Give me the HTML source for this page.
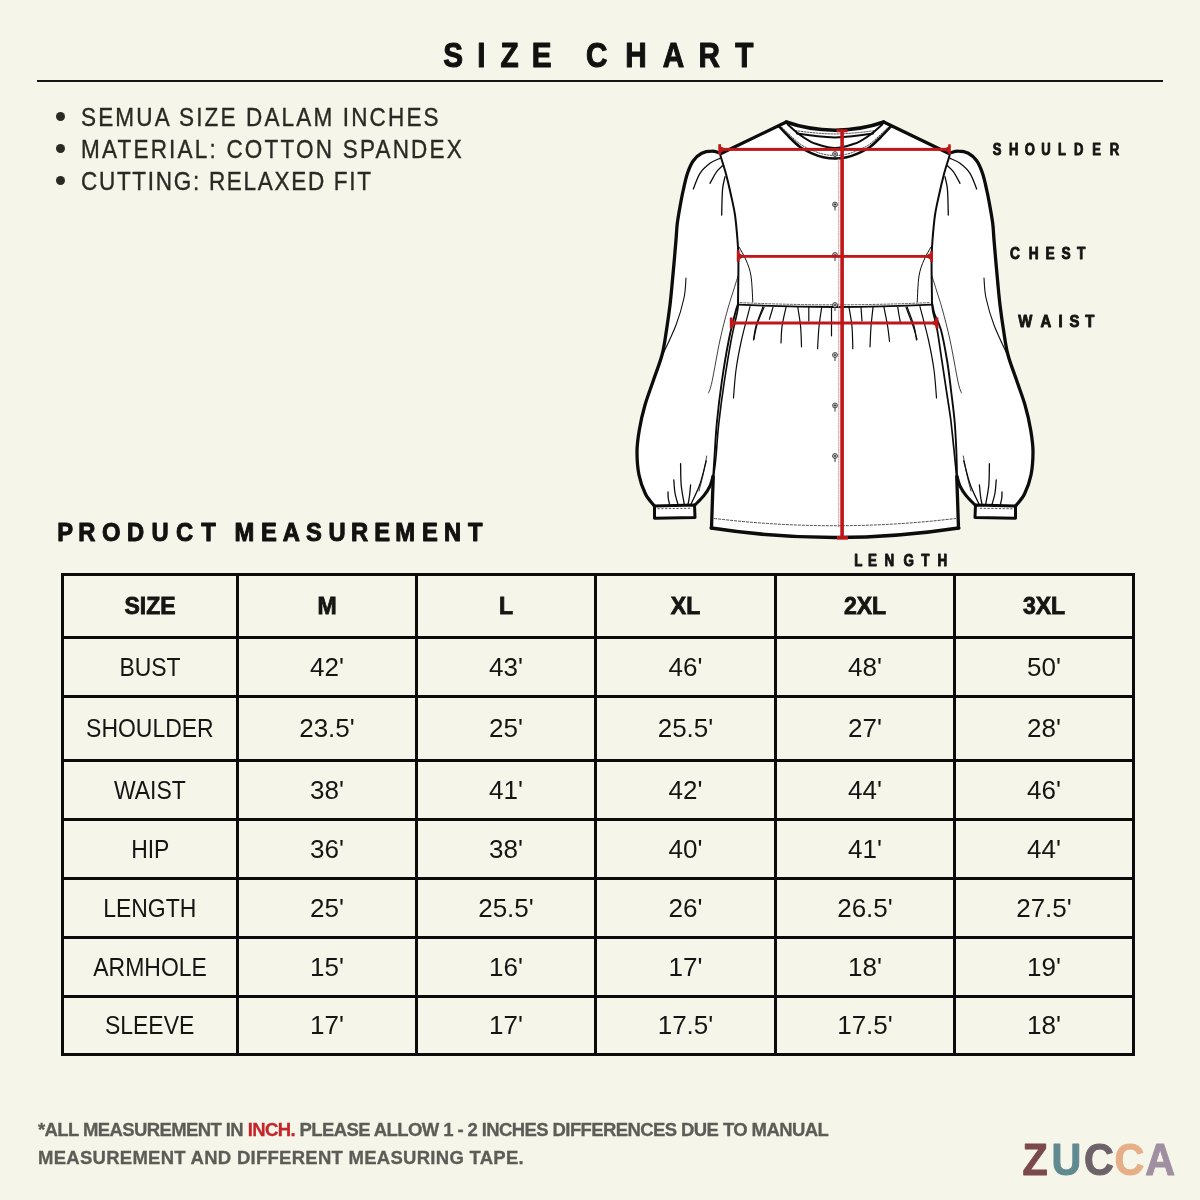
<!DOCTYPE html>
<html><head><meta charset="utf-8"><title>Size Chart</title>
<style>
*{margin:0;padding:0;box-sizing:border-box}
html,body{width:1200px;height:1200px;overflow:hidden}
body{background:#f5f5e9;position:relative;font-family:"Liberation Sans",Arial,sans-serif;color:#1b1b19}
.a{position:absolute;white-space:nowrap;line-height:1}
.title span{position:absolute;top:37.3px;font-size:35px;line-height:1;font-weight:700;color:#111110;-webkit-text-stroke:1.1px #111110;transform-origin:0 0;white-space:nowrap}
.rule{position:absolute;left:37px;top:80px;width:1126px;height:2px;background:#161612}
.bl{left:81px;font-size:25px;color:#2a2924;letter-spacing:0.5px;transform:scaleX(0.9);transform-origin:0 0;-webkit-text-stroke:0.35px #2a2924}
.dot{position:absolute;left:56px;width:9px;height:9px;border-radius:50%;background:#2a2924}
.lab{position:absolute;font-size:16px;line-height:1;font-weight:700;color:#141412;-webkit-text-stroke:0.9px #141412;transform-origin:0 0;white-space:nowrap}
.pm{position:absolute;font-size:26px;line-height:1;font-weight:700;color:#121211;-webkit-text-stroke:1px #121211;transform-origin:0 0;white-space:nowrap}
.hl{position:absolute;left:61px;width:1074px;height:3px;background:#0b0b0b}
.vl{position:absolute;top:573px;width:3px;height:483px;background:#0b0b0b}
.c{position:absolute;display:flex;align-items:center;justify-content:center;font-size:25px;color:#151513;white-space:nowrap}
.c.h{font-weight:700;font-size:23px;-webkit-text-stroke:0.8px #151513}
.c span{position:relative;top:0.5px}
.c.w span{display:inline-block;transform:scaleX(0.9);font-size:25.5px}
.c{font-size:26px}
.foot{left:38px;font-size:18.5px;font-weight:700;color:#5d5d57;-webkit-text-stroke:0.3px #5d5d57}
.foot .r{color:#c5252a;-webkit-text-stroke:0.3px #c5252a}
.logo span{position:absolute;top:1137.2px;font-size:45px;line-height:1;font-weight:700;transform-origin:0 0;white-space:nowrap}
</style></head><body>

<div class="rule"></div>

<div class="dot" style="top:112px"></div>
<div class="dot" style="top:144px"></div>
<div class="dot" style="top:176px"></div>
<div class="a bl" style="top:105px;letter-spacing:2.4px">SEMUA SIZE DALAM INCHES</div>
<div class="a bl" style="top:137px;letter-spacing:2.45px">MATERIAL: COTTON SPANDEX</div>
<div class="a bl" style="top:169px;letter-spacing:1.9px">CUTTING: RELAXED FIT</div>



<!-- SHIRT -->
<svg id="shirt" style="position:absolute;left:0;top:0" width="1200" height="600" viewBox="0 0 1200 600">
<path d="M720,153 C718.6,152.7 714.8,151.1 711.7,151.2 C708.7,151.2 704.8,151.7 701.7,153.3 C698.6,154.9 695.7,157.5 693.3,160.8 C690.9,164.1 689.2,168.4 687.5,173.3 C685.8,178.2 684.5,184.4 683.3,190 C682,195.6 681,201.1 680,206.7 C679,212.2 678,217.8 677.3,223.3 C676.6,228.9 676.5,233.9 676,240 C675.5,246.1 674.9,253 674.3,260 C673.7,267 673,274.5 672.3,282 C671.6,289.5 671,297 670,305 C669,313 667.8,321.7 666.5,330 C665.2,338.3 664.2,346.7 662,355 C659.8,363.3 656.3,371.7 653.5,380 C650.7,388.3 647.4,396.7 645,405 C642.6,413.3 640.6,422.2 639.3,430 C638,437.8 637,444.5 637,452 C637,459.5 637.6,468 639,475 C640.4,482 643,488.9 645.5,494 C648,499.1 652.6,503.6 654,505.5 L695,505 C696.5,503.4 701.5,498.7 704,495.5 C706.5,492.3 708.5,489.2 710,486 C711.5,482.8 712.5,477.7 713,476 L718,420 L728,360 L738,300 L738,200 Z" fill="#fff" stroke="none"/>
<path d="M720,153 C718.6,152.7 714.8,151.1 711.7,151.2 C708.7,151.2 704.8,151.7 701.7,153.3 C698.6,154.9 695.7,157.5 693.3,160.8 C690.9,164.1 689.2,168.4 687.5,173.3 C685.8,178.2 684.5,184.4 683.3,190 C682,195.6 681,201.1 680,206.7 C679,212.2 678,217.8 677.3,223.3 C676.6,228.9 676.5,233.9 676,240 C675.5,246.1 674.9,253 674.3,260 C673.7,267 673,274.5 672.3,282 C671.6,289.5 671,297 670,305 C669,313 667.8,321.7 666.5,330 C665.2,338.3 664.2,346.7 662,355 C659.8,363.3 656.3,371.7 653.5,380 C650.7,388.3 647.4,396.7 645,405 C642.6,413.3 640.6,422.2 639.3,430 C638,437.8 637,444.5 637,452 C637,459.5 637.6,468 639,475 C640.4,482 643,488.9 645.5,494 C648,499.1 652.6,503.6 654,505.5" fill="none" stroke="#0c0c0c" stroke-width="3.3" stroke-linecap="round" stroke-linejoin="round"/>
<path d="M695,505 C696.5,503.4 701.5,498.7 704,495.5 C706.5,492.3 708.5,489.2 710,486 C711.5,482.8 712.5,477.7 713,476" fill="none" stroke="#0c0c0c" stroke-width="3.0" stroke-linecap="round" stroke-linejoin="round"/>
<path d="M654.5,506 L694.5,505 L695,517.5 L654.5,518.3 Z" fill="#fff" stroke="#0c0c0c" stroke-width="3" stroke-linejoin="round"/>
<path d="M657.5,508.8 L692,508.2" stroke="#444" stroke-width="0.9" stroke-dasharray="2.2 1.6" fill="none"/>
<path d="M668,492 C668,493 668,496 668.2,498 C668.5,500 669.3,503 669.5,504" fill="none" stroke="#0c0c0c" stroke-width="1.3" stroke-linecap="round" stroke-linejoin="round"/>
<path d="M673.8,480 C674,482.2 674.3,488.9 675,493 C675.7,497.1 677.5,502.6 678,504.5" fill="none" stroke="#0c0c0c" stroke-width="1.3" stroke-linecap="round" stroke-linejoin="round"/>
<path d="M680.6,463.7 C680.7,467.2 680.6,478.1 681.2,485 C681.8,491.9 683.9,501.7 684.4,505" fill="none" stroke="#0c0c0c" stroke-width="1.3" stroke-linecap="round" stroke-linejoin="round"/>
<path d="M690.6,485 C690.4,486.8 689.9,492.8 689.5,496 C689.1,499.2 688.2,503 688,504.4" fill="none" stroke="#0c0c0c" stroke-width="1.3" stroke-linecap="round" stroke-linejoin="round"/>
<path d="M706.2,461 C705.2,464.8 702.5,476.8 700,484 C697.5,491.2 692.5,500.7 691,504" fill="none" stroke="#0c0c0c" stroke-width="1.3" stroke-linecap="round" stroke-linejoin="round"/>
<path d="M720,158.3 C718.3,159.1 713.3,160.8 710,163.3 C706.7,165.8 702.8,169 700,173.3 C697.2,177.6 694.4,186.4 693.3,189" fill="none" stroke="#0c0c0c" stroke-width="1.3" stroke-linecap="round" stroke-linejoin="round"/>
<path d="M722.5,165.8 C721.5,166.8 718.8,168.8 716.7,171.7 C714.6,174.6 711.1,181.4 710,183.3" fill="none" stroke="#0c0c0c" stroke-width="1.3" stroke-linecap="round" stroke-linejoin="round"/>
<path d="M725,176.7 C724.6,178.9 723,183.6 722.5,190 C722,196.4 721.8,210.8 721.7,215" fill="none" stroke="#0c0c0c" stroke-width="1.3" stroke-linecap="round" stroke-linejoin="round"/>
<path d="M686,278 C685.7,281.3 685.7,290.2 684,298 C682.3,305.8 679.5,315.7 676,325 C672.5,334.3 665.2,349.2 663,354" fill="none" stroke="#0c0c0c" stroke-width="1.1" stroke-linecap="round" stroke-linejoin="round"/>
<path d="M738,276 C737.2,278.7 734.8,286.3 733,292 C731.2,297.7 729.7,302 727.5,310 C725.3,318 722.6,328.1 720,340 C717.4,351.9 713.9,372.9 712,381.7 C710.1,390.5 709.1,391.1 708.5,393" fill="none" stroke="#0c0c0c" stroke-width="0.8" stroke-linecap="round" stroke-linejoin="round"/>
<path d="M706.7,456 C706.1,459.2 704.3,469.2 703,475 C701.7,480.8 699.7,488.3 699,491" fill="none" stroke="#0c0c0c" stroke-width="0.8" stroke-linecap="round" stroke-linejoin="round"/>
<path d="M950,153 C951.4,152.7 955.2,151.1 958.3,151.2 C961.3,151.2 965.2,151.7 968.3,153.3 C971.4,154.9 974.3,157.5 976.7,160.8 C979.1,164.1 980.8,168.4 982.5,173.3 C984.2,178.2 985.5,184.4 986.7,190 C988,195.6 989,201.1 990,206.7 C991,212.2 992,217.8 992.7,223.3 C993.4,228.9 993.5,233.9 994,240 C994.5,246.1 995.1,253 995.7,260 C996.3,267 997,274.5 997.7,282 C998.4,289.5 999,297 1000,305 C1001,313 1002.2,321.7 1003.5,330 C1004.8,338.3 1005.8,346.7 1008,355 C1010.2,363.3 1013.7,371.7 1016.5,380 C1019.3,388.3 1022.6,396.7 1025,405 C1027.4,413.3 1029.4,422.2 1030.7,430 C1032,437.8 1033,444.5 1033,452 C1033,459.5 1032.4,468 1031,475 C1029.6,482 1027,488.9 1024.5,494 C1022,499.1 1017.4,503.6 1016,505.5 L975,505 C973.5,503.4 968.5,498.7 966,495.5 C963.5,492.3 961.5,489.2 960,486 C958.5,482.8 957.5,477.7 957,476 L952,420 L942,360 L932,300 L932,200 Z" fill="#fff" stroke="none"/>
<path d="M950,153 C951.4,152.7 955.2,151.1 958.3,151.2 C961.3,151.2 965.2,151.7 968.3,153.3 C971.4,154.9 974.3,157.5 976.7,160.8 C979.1,164.1 980.8,168.4 982.5,173.3 C984.2,178.2 985.5,184.4 986.7,190 C988,195.6 989,201.1 990,206.7 C991,212.2 992,217.8 992.7,223.3 C993.4,228.9 993.5,233.9 994,240 C994.5,246.1 995.1,253 995.7,260 C996.3,267 997,274.5 997.7,282 C998.4,289.5 999,297 1000,305 C1001,313 1002.2,321.7 1003.5,330 C1004.8,338.3 1005.8,346.7 1008,355 C1010.2,363.3 1013.7,371.7 1016.5,380 C1019.3,388.3 1022.6,396.7 1025,405 C1027.4,413.3 1029.4,422.2 1030.7,430 C1032,437.8 1033,444.5 1033,452 C1033,459.5 1032.4,468 1031,475 C1029.6,482 1027,488.9 1024.5,494 C1022,499.1 1017.4,503.6 1016,505.5" fill="none" stroke="#0c0c0c" stroke-width="3.3" stroke-linecap="round" stroke-linejoin="round"/>
<path d="M975,505 C973.5,503.4 968.5,498.7 966,495.5 C963.5,492.3 961.5,489.2 960,486 C958.5,482.8 957.5,477.7 957,476" fill="none" stroke="#0c0c0c" stroke-width="3.0" stroke-linecap="round" stroke-linejoin="round"/>
<path d="M1015.5,506 L975.5,505 L975,517.5 L1015.5,518.3 Z" fill="#fff" stroke="#0c0c0c" stroke-width="3" stroke-linejoin="round"/>
<path d="M1012.5,508.8 L978,508.2" stroke="#444" stroke-width="0.9" stroke-dasharray="2.2 1.6" fill="none"/>
<path d="M1002,492 C1002,493 1002,496 1001.8,498 C1001.5,500 1000.7,503 1000.5,504" fill="none" stroke="#0c0c0c" stroke-width="1.3" stroke-linecap="round" stroke-linejoin="round"/>
<path d="M996.2,480 C996,482.2 995.7,488.9 995,493 C994.3,497.1 992.5,502.6 992,504.5" fill="none" stroke="#0c0c0c" stroke-width="1.3" stroke-linecap="round" stroke-linejoin="round"/>
<path d="M989.4,463.7 C989.3,467.2 989.4,478.1 988.8,485 C988.2,491.9 986.1,501.7 985.6,505" fill="none" stroke="#0c0c0c" stroke-width="1.3" stroke-linecap="round" stroke-linejoin="round"/>
<path d="M979.4,485 C979.6,486.8 980.1,492.8 980.5,496 C980.9,499.2 981.8,503 982,504.4" fill="none" stroke="#0c0c0c" stroke-width="1.3" stroke-linecap="round" stroke-linejoin="round"/>
<path d="M963.8,461 C964.8,464.8 967.5,476.8 970,484 C972.5,491.2 977.5,500.7 979,504" fill="none" stroke="#0c0c0c" stroke-width="1.3" stroke-linecap="round" stroke-linejoin="round"/>
<path d="M950,158.3 C951.7,159.1 956.7,160.8 960,163.3 C963.3,165.8 967.2,169 970,173.3 C972.8,177.6 975.6,186.4 976.7,189" fill="none" stroke="#0c0c0c" stroke-width="1.3" stroke-linecap="round" stroke-linejoin="round"/>
<path d="M947.5,165.8 C948.5,166.8 951.2,168.8 953.3,171.7 C955.4,174.6 958.9,181.4 960,183.3" fill="none" stroke="#0c0c0c" stroke-width="1.3" stroke-linecap="round" stroke-linejoin="round"/>
<path d="M945,176.7 C945.4,178.9 947,183.6 947.5,190 C948,196.4 948.2,210.8 948.3,215" fill="none" stroke="#0c0c0c" stroke-width="1.3" stroke-linecap="round" stroke-linejoin="round"/>
<path d="M984,278 C984.3,281.3 984.3,290.2 986,298 C987.7,305.8 990.5,315.7 994,325 C997.5,334.3 1004.8,349.2 1007,354" fill="none" stroke="#0c0c0c" stroke-width="1.1" stroke-linecap="round" stroke-linejoin="round"/>
<path d="M932,276 C932.8,278.7 935.2,286.3 937,292 C938.8,297.7 940.3,302 942.5,310 C944.7,318 947.4,328.1 950,340 C952.6,351.9 956.1,372.9 958,381.7 C959.9,390.5 960.9,391.1 961.5,393" fill="none" stroke="#0c0c0c" stroke-width="0.8" stroke-linecap="round" stroke-linejoin="round"/>
<path d="M963.3,456 C963.9,459.2 965.7,469.2 967,475 C968.3,480.8 970.3,488.3 971,491" fill="none" stroke="#0c0c0c" stroke-width="0.8" stroke-linecap="round" stroke-linejoin="round"/>
<path d="M835,130 C820,129.6 800,126 786,121 L721,153 L720.4,155.5 C721.3,158.5 724.1,166.9 725.8,173.3 C727.5,179.8 729.3,187.2 730.8,194.2 C732.3,201.1 733.9,207.4 735,215 C736.1,222.6 736.9,232.5 737.5,240 C738.1,247.5 738.3,253.3 738.4,260 C738.5,266.7 738.4,272.7 738.3,280 C738.2,287.3 738,300 738,304 C737.6,305.7 737.3,308 735.8,314 C734.3,320 731.4,328.7 729.2,340 C727,351.3 724.5,367.8 722.5,381.7 C720.5,395.6 718.8,410.8 717.5,423.3 C716.2,435.8 715.8,447.6 715,456.7 C714.2,465.8 713.5,470.8 713,478 C712.5,485.2 712.3,491.7 712,500 C711.7,508.3 711.4,523.3 711.3,528 Q835,547 958.7,528 C958.6,523.3 958.3,508.3 958,500 C957.7,491.7 957.5,485.2 957,478 C956.5,470.8 955.8,465.8 955,456.7 C954.2,447.6 953.8,435.8 952.5,423.3 C951.2,410.8 949.5,395.6 947.5,381.7 C945.5,367.8 943,351.3 940.8,340 C938.6,328.7 935.7,320 934.2,314 C932.7,308 932.4,305.7 932,304 C932,300 931.8,287.3 931.7,280 C931.6,272.7 931.5,266.7 931.6,260 C931.7,253.3 931.9,247.5 932.5,240 C933.1,232.5 933.9,222.6 935,215 C936.1,207.4 937.7,201.1 939.2,194.2 C940.7,187.2 942.5,179.8 944.2,173.3 C945.9,166.9 948.7,158.5 949.6,155.5 L949,153 L884,121 C870,126 850,129.6 835,130 Z" fill="#fff" stroke="none"/>
<path d="M786.3,122 L721,153.5" fill="none" stroke="#0c0c0c" stroke-width="3.3" stroke-linecap="round" stroke-linejoin="round"/>
<path d="M720.4,155.5 C721.3,158.5 724.1,166.9 725.8,173.3 C727.5,179.8 729.3,187.2 730.8,194.2 C732.3,201.1 733.9,207.4 735,215 C736.1,222.6 736.9,232.5 737.5,240 C738.1,247.5 738.3,253.3 738.4,260 C738.5,266.7 738.4,272.7 738.3,280 C738.2,287.3 738,300 738,304" fill="none" stroke="#0c0c0c" stroke-width="2.0" stroke-linecap="round" stroke-linejoin="round"/>
<path d="M738,304 C737.6,305.3 737,306 735.5,312 C734,318 731.1,328.4 728.8,340 C726.5,351.6 723.8,367.8 721.8,381.7 C719.8,395.6 718,410.8 716.8,423.3 C715.6,435.8 715.1,448.1 714.5,456.7 C713.9,465.3 713.5,471.9 713.3,475" fill="none" stroke="#0c0c0c" stroke-width="1.9" stroke-linecap="round" stroke-linejoin="round"/>
<path d="M738.3,304 C738.1,305.3 738.5,306 737.3,312 C736.1,318 733.4,328.4 731.2,340 C729,351.6 726.4,367.8 724.3,381.7 C722.2,395.6 720.2,410.8 718.8,423.3 C717.4,435.8 716.8,448.1 716,456.7 C715.2,465.3 714.2,471.9 713.8,475" fill="none" stroke="#0c0c0c" stroke-width="1.6" stroke-linecap="round" stroke-linejoin="round"/>
<path d="M713.3,476.5 C713.2,480.1 712.8,489.4 712.5,498 C712.2,506.6 711.7,523 711.5,528" fill="none" stroke="#0c0c0c" stroke-width="3.3" stroke-linecap="round" stroke-linejoin="round"/>
<path d="M739,247 C740.2,249.2 744,255.2 746,260 C748,264.8 749.9,269 751,276 C752.1,283 752.5,297.7 752.8,302" fill="none" stroke="#0c0c0c" stroke-width="1.0" stroke-linecap="round" stroke-linejoin="round"/>
<path d="M750,306.7 C748.6,312.2 743.8,329.4 741.5,340 C739.2,350.6 737.3,360.3 736,370 C734.7,379.7 733.9,393.3 733.5,398" fill="none" stroke="#0c0c0c" stroke-width="1.2" stroke-linecap="round" stroke-linejoin="round"/>
<path d="M763,306.7 C761.8,309.9 757.6,320.4 756,326 C754.4,331.6 753.9,337.7 753.5,340" fill="none" stroke="#0c0c0c" stroke-width="1.2" stroke-linecap="round" stroke-linejoin="round"/>
<path d="M883.7,122 L949,153.5" fill="none" stroke="#0c0c0c" stroke-width="3.3" stroke-linecap="round" stroke-linejoin="round"/>
<path d="M949.6,155.5 C948.7,158.5 945.9,166.9 944.2,173.3 C942.5,179.8 940.7,187.2 939.2,194.2 C937.7,201.1 936.1,207.4 935,215 C933.9,222.6 933.1,232.5 932.5,240 C931.9,247.5 931.7,253.3 931.6,260 C931.5,266.7 931.6,272.7 931.7,280 C931.8,287.3 932,300 932,304" fill="none" stroke="#0c0c0c" stroke-width="2.0" stroke-linecap="round" stroke-linejoin="round"/>
<path d="M932.3,304 C932.7,305.7 933,309.7 934.5,314 C936,318.3 938.9,322.3 941,330 C943.1,337.7 945.3,350 947,360 C948.7,370 949.8,380 951,390 C952.2,400 953.6,410 954.5,420 C955.4,430 955.9,440.7 956.3,450 C956.7,459.3 956.9,471.7 957,476" fill="none" stroke="#0c0c0c" stroke-width="1.9" stroke-linecap="round" stroke-linejoin="round"/>
<path d="M932,304 C932.2,305.3 932.1,307.7 933,312 C933.9,316.3 935.8,322 937.2,330 C938.7,338 940.2,350 941.8,360 C943.3,370 944.8,380 946.3,390 C947.8,400 949.5,410 950.8,420 C952,430 953,440.7 954,450 C955,459.3 956.1,471.7 956.5,476" fill="none" stroke="#0c0c0c" stroke-width="1.7" stroke-linecap="round" stroke-linejoin="round"/>
<path d="M956.7,476.5 C956.8,480.1 957.2,489.4 957.5,498 C957.8,506.6 958.3,523 958.5,528" fill="none" stroke="#0c0c0c" stroke-width="3.3" stroke-linecap="round" stroke-linejoin="round"/>
<path d="M931,247 C929.8,249.2 926,255.2 924,260 C922,264.8 920.1,269 919,276 C917.9,283 917.5,297.7 917.2,302" fill="none" stroke="#0c0c0c" stroke-width="1.0" stroke-linecap="round" stroke-linejoin="round"/>
<path d="M920,306.7 C921.4,312.2 926.2,329.4 928.5,340 C930.8,350.6 932.7,360.3 934,370 C935.3,379.7 936.1,393.3 936.5,398" fill="none" stroke="#0c0c0c" stroke-width="1.2" stroke-linecap="round" stroke-linejoin="round"/>
<path d="M907,306.7 C908.2,309.9 912.4,320.4 914,326 C915.6,331.6 916.1,337.7 916.5,340" fill="none" stroke="#0c0c0c" stroke-width="1.2" stroke-linecap="round" stroke-linejoin="round"/>
<path d="M786.3,122 C800,127 818,129.9 835,130.2 C852,129.9 870,127 883.7,122" fill="none" stroke="#0c0c0c" stroke-width="3.6" stroke-linecap="round" stroke-linejoin="round"/>
<path d="M797,133.5 C810,135.6 822,137.2 835,137.4 C848,137.2 860,135.6 873,133.5" fill="none" stroke="#0c0c0c" stroke-width="2.0" stroke-linecap="round" stroke-linejoin="round"/>
<path d="M795,130.6 C810,132.6 822,133.8 835,134 C848,133.8 860,132.6 875,130.6" fill="none" stroke="#333" stroke-width="0.9" stroke-linecap="round" stroke-linejoin="round" stroke-dasharray="1.6 1.4"/>
<path d="M779,126.3 C780.6,128 785.2,133.1 788.7,136.5 C792.2,139.9 796,144.2 800,147 C804,149.8 808.6,151.9 812.5,153.6 C816.4,155.3 819.5,156.4 823.3,157.2 C827,158 831.1,158.5 835,158.5 C838.9,158.5 843,158 846.7,157.2 C850.5,156.4 853.6,155.3 857.5,153.6 C861.4,151.9 866,149.8 870,147 C874,144.2 877.8,139.9 881.3,136.5 C884.8,133.1 889.4,128 891,126.3" fill="none" stroke="#0c0c0c" stroke-width="2.6" stroke-linecap="round" stroke-linejoin="round"/>
<path d="M787.7,124.5 C789.4,126 794.3,130.7 798,133.5 C801.7,136.3 806.7,139.5 810,141.3 C813.3,143.1 815,143.5 818,144.5 C821,145.5 825.2,146.6 828,147.2 C830.8,147.8 832.7,148 835,148 C837.3,148 839.2,147.8 842,147.2 C844.8,146.6 849,145.5 852,144.5 C855,143.5 856.7,143.1 860,141.3 C863.3,139.5 868.3,136.3 872,133.5 C875.7,130.7 880.6,126 882.3,124.5" fill="none" stroke="#0c0c0c" stroke-width="2.0" stroke-linecap="round" stroke-linejoin="round"/>
<path d="M782,127.5 C783.6,129 788.2,133.5 791.5,136.5 C794.8,139.5 798.2,142.9 802,145.3 C805.8,147.7 810.3,149.5 814,151 C817.7,152.5 820.5,153.6 824,154.3 C827.5,155.1 831.3,155.5 835,155.5 C838.7,155.5 842.5,155.1 846,154.3 C849.5,153.6 852.3,152.5 856,151 C859.7,149.5 864.2,147.7 868,145.3 C871.8,142.9 875.2,139.5 878.5,136.5 C881.8,133.5 886.4,129 888,127.5" fill="none" stroke="#333" stroke-width="0.9" stroke-linecap="round" stroke-linejoin="round" stroke-dasharray="1.6 1.4"/>
<path d="M738,304.6 C780,306.6 810,307 835,307 C860,307 890,306.6 932,304.6" fill="none" stroke="#0c0c0c" stroke-width="1.8" stroke-linecap="round" stroke-linejoin="round"/>
<path d="M740,302.6 C780,304.4 810,304.8 835,304.8 C860,304.8 890,304.4 930,302.6" fill="none" stroke="#333" stroke-width="0.8" stroke-linecap="round" stroke-linejoin="round" stroke-dasharray="2 1.6"/>
<path d="M711.3,528 Q835,547 958.7,528" fill="none" stroke="#0c0c0c" stroke-width="3.6" stroke-linecap="round" stroke-linejoin="round"/>
<path d="M714.5,518.5 Q835,533 955.5,518.5" fill="none" stroke="#333" stroke-width="0.9" stroke-linecap="round" stroke-linejoin="round" stroke-dasharray="2.2 1.8"/>
<path d="M838.7,159 L838.7,527" fill="none" stroke="#d49a9a" stroke-width="1.1" stroke-linecap="round" stroke-linejoin="round" stroke-dasharray="1 1.4"/>
<path d="M764,307.4 C762.9,310 759.2,317.6 757.5,323 C755.8,328.4 754.4,336.8 753.8,339.5" fill="none" stroke="#0c0c0c" stroke-width="1.2" stroke-linecap="round" stroke-linejoin="round"/>
<path d="M773,307.4 C772.7,308.5 771.6,312 771,314 C770.4,316 769.7,318.4 769.4,319.3" fill="none" stroke="#0c0c0c" stroke-width="1.2" stroke-linecap="round" stroke-linejoin="round"/>
<path d="M786,307.4 C785.3,310.6 782.8,320.8 782,326.7 C781.2,332.6 781.2,340.3 781,343" fill="none" stroke="#0c0c0c" stroke-width="1.2" stroke-linecap="round" stroke-linejoin="round"/>
<path d="M797.8,307.4 C798.3,310.6 800,320.1 800.6,326.7 C801.2,333.3 801.4,343.4 801.5,346.8" fill="none" stroke="#0c0c0c" stroke-width="1.2" stroke-linecap="round" stroke-linejoin="round"/>
<path d="M808.8,307.4 C808.8,308.5 808.8,311.7 808.8,314 C808.8,316.3 808.8,319.8 808.8,321" fill="none" stroke="#0c0c0c" stroke-width="1.2" stroke-linecap="round" stroke-linejoin="round"/>
<path d="M821.7,307.4 C821.2,310.6 819.7,319.8 819,326.7 C818.3,333.6 817.8,345 817.6,348.7" fill="none" stroke="#0c0c0c" stroke-width="1.2" stroke-linecap="round" stroke-linejoin="round"/>
<path d="M831.5,307.4 C831.5,309.5 831.5,315.3 831.5,320 C831.5,324.7 831.5,333.2 831.5,335.8" fill="none" stroke="#0c0c0c" stroke-width="1.2" stroke-linecap="round" stroke-linejoin="round"/>
<path d="M849,307.4 C849.5,310.6 851.4,319.8 852,326.7 C852.6,333.6 852.7,345 852.8,348.7" fill="none" stroke="#0c0c0c" stroke-width="1.2" stroke-linecap="round" stroke-linejoin="round"/>
<path d="M861,307.4 C861.1,308.5 861.3,311.7 861.5,314 C861.7,316.3 861.9,319.8 862,321" fill="none" stroke="#0c0c0c" stroke-width="1.2" stroke-linecap="round" stroke-linejoin="round"/>
<path d="M873,307.4 C872.7,310.6 871.5,320.1 871,326.7 C870.5,333.3 870.2,343.4 870,346.8" fill="none" stroke="#0c0c0c" stroke-width="1.2" stroke-linecap="round" stroke-linejoin="round"/>
<path d="M884,307.4 C884.6,310.6 886.8,321 887.7,326.7 C888.6,332.4 889.2,338.9 889.5,341.3" fill="none" stroke="#0c0c0c" stroke-width="1.2" stroke-linecap="round" stroke-linejoin="round"/>
<path d="M897.8,307.4 C898,308.7 898.5,312.4 899,315 C899.5,317.6 900.2,321.7 900.5,323" fill="none" stroke="#0c0c0c" stroke-width="1.2" stroke-linecap="round" stroke-linejoin="round"/>
<path d="M906,307.4 C907.2,310.6 911.5,321.3 913.3,326.7 C915.1,332.1 916.4,337.4 917,339.5" fill="none" stroke="#0c0c0c" stroke-width="1.2" stroke-linecap="round" stroke-linejoin="round"/>
<g stroke="#222" fill="#fff" stroke-width="0.9"><circle cx="835" cy="154" r="2.4"/><path d="M833.6,154 h2.8 M835,152.6 v2.8 M835,156.4 v3.6" fill="none"/></g>
<g stroke="#222" fill="#fff" stroke-width="0.9"><circle cx="835" cy="204.5" r="2.4"/><path d="M833.6,204.5 h2.8 M835,203.1 v2.8 M835,206.9 v3.6" fill="none"/></g>
<g stroke="#222" fill="#fff" stroke-width="0.9"><circle cx="835" cy="255" r="2.4"/><path d="M833.6,255 h2.8 M835,253.6 v2.8 M835,257.4 v3.6" fill="none"/></g>
<g stroke="#222" fill="#fff" stroke-width="0.9"><circle cx="835" cy="305" r="2.4"/><path d="M833.6,305 h2.8 M835,303.6 v2.8 M835,307.4 v3.6" fill="none"/></g>
<g stroke="#222" fill="#fff" stroke-width="0.9"><circle cx="835" cy="355" r="2.4"/><path d="M833.6,355 h2.8 M835,353.6 v2.8 M835,357.4 v3.6" fill="none"/></g>
<g stroke="#222" fill="#fff" stroke-width="0.9"><circle cx="835" cy="405.5" r="2.4"/><path d="M833.6,405.5 h2.8 M835,404.1 v2.8 M835,407.9 v3.6" fill="none"/></g>
<g stroke="#222" fill="#fff" stroke-width="0.9"><circle cx="835" cy="456" r="2.4"/><path d="M833.6,456 h2.8 M835,454.6 v2.8 M835,458.4 v3.6" fill="none"/></g>
<rect x="719.5" y="147.9" width="230" height="3" fill="#bf1719"/>
<rect x="718.3" y="144.2" width="2.7" height="10.4" fill="#bf1719"/>
<rect x="948.2" y="144.3" width="2.6" height="10.1" fill="#bf1719"/>
<path d="M720,146 L727,149.4 L720,153 Z M949.5,146 L942.5,149.4 L949.5,153 Z" fill="#bf1719"/>
<rect x="737.5" y="255" width="194.5" height="2.8" fill="#bf1719"/>
<rect x="736.8" y="250.5" width="2.8" height="11.3" fill="#bf1719"/>
<rect x="930.2" y="251" width="2.8" height="11" fill="#bf1719"/>
<path d="M738,252.5 L745,256.4 L738,260 Z M931.5,252.5 L924.5,256.4 L931.5,260 Z" fill="#bf1719"/>
<rect x="731" y="321.5" width="207" height="3" fill="#bf1719"/>
<rect x="729.8" y="317.5" width="2.8" height="11" fill="#bf1719"/>
<rect x="935.6" y="317.5" width="2.8" height="11" fill="#bf1719"/>
<path d="M731,319 L738,323 L731,327 Z M937.5,319 L930.5,323 L937.5,327 Z" fill="#bf1719"/>
<rect x="840.3" y="129.8" width="3.6" height="408.2" fill="#bf1719"/>
<rect x="836.5" y="129.3" width="11" height="3" fill="#bf1719"/>
<rect x="837" y="536" width="11" height="3.6" fill="#bf1719"/>
</svg>

<!-- TABLE -->
<div class="hl" style="top:573.0px"></div>
<div class="hl" style="top:635.5px"></div>
<div class="hl" style="top:694.5px"></div>
<div class="hl" style="top:758.5px"></div>
<div class="hl" style="top:817.5px"></div>
<div class="hl" style="top:876.5px"></div>
<div class="hl" style="top:935.5px"></div>
<div class="hl" style="top:994.5px"></div>
<div class="hl" style="top:1053.3px"></div>
<div class="vl" style="left:61.0px"></div>
<div class="vl" style="left:236.0px"></div>
<div class="vl" style="left:415.0px"></div>
<div class="vl" style="left:594.0px"></div>
<div class="vl" style="left:774.0px"></div>
<div class="vl" style="left:953.0px"></div>
<div class="vl" style="left:1132.0px"></div>
<div class="c h" style="left:62.5px;top:574.5px;width:175.0px;height:62.5px"><span>SIZE</span></div>
<div class="c h" style="left:237.5px;top:574.5px;width:179.0px;height:62.5px"><span>M</span></div>
<div class="c h" style="left:416.5px;top:574.5px;width:179.0px;height:62.5px"><span>L</span></div>
<div class="c h" style="left:595.5px;top:574.5px;width:180.0px;height:62.5px"><span>XL</span></div>
<div class="c h" style="left:775.5px;top:574.5px;width:179.0px;height:62.5px"><span>2XL</span></div>
<div class="c h" style="left:954.5px;top:574.5px;width:179.0px;height:62.5px"><span>3XL</span></div>
<div class="c w" style="left:62.5px;top:637.0px;width:175.0px;height:59.0px"><span>BUST</span></div>
<div class="c" style="left:237.5px;top:637.0px;width:179.0px;height:59.0px"><span>42'</span></div>
<div class="c" style="left:416.5px;top:637.0px;width:179.0px;height:59.0px"><span>43'</span></div>
<div class="c" style="left:595.5px;top:637.0px;width:180.0px;height:59.0px"><span>46'</span></div>
<div class="c" style="left:775.5px;top:637.0px;width:179.0px;height:59.0px"><span>48'</span></div>
<div class="c" style="left:954.5px;top:637.0px;width:179.0px;height:59.0px"><span>50'</span></div>
<div class="c w" style="left:62.5px;top:696.0px;width:175.0px;height:64.0px"><span>SHOULDER</span></div>
<div class="c" style="left:237.5px;top:696.0px;width:179.0px;height:64.0px"><span>23.5'</span></div>
<div class="c" style="left:416.5px;top:696.0px;width:179.0px;height:64.0px"><span>25'</span></div>
<div class="c" style="left:595.5px;top:696.0px;width:180.0px;height:64.0px"><span>25.5'</span></div>
<div class="c" style="left:775.5px;top:696.0px;width:179.0px;height:64.0px"><span>27'</span></div>
<div class="c" style="left:954.5px;top:696.0px;width:179.0px;height:64.0px"><span>28'</span></div>
<div class="c w" style="left:62.5px;top:760.0px;width:175.0px;height:59.0px"><span>WAIST</span></div>
<div class="c" style="left:237.5px;top:760.0px;width:179.0px;height:59.0px"><span>38'</span></div>
<div class="c" style="left:416.5px;top:760.0px;width:179.0px;height:59.0px"><span>41'</span></div>
<div class="c" style="left:595.5px;top:760.0px;width:180.0px;height:59.0px"><span>42'</span></div>
<div class="c" style="left:775.5px;top:760.0px;width:179.0px;height:59.0px"><span>44'</span></div>
<div class="c" style="left:954.5px;top:760.0px;width:179.0px;height:59.0px"><span>46'</span></div>
<div class="c w" style="left:62.5px;top:819.0px;width:175.0px;height:59.0px"><span>HIP</span></div>
<div class="c" style="left:237.5px;top:819.0px;width:179.0px;height:59.0px"><span>36'</span></div>
<div class="c" style="left:416.5px;top:819.0px;width:179.0px;height:59.0px"><span>38'</span></div>
<div class="c" style="left:595.5px;top:819.0px;width:180.0px;height:59.0px"><span>40'</span></div>
<div class="c" style="left:775.5px;top:819.0px;width:179.0px;height:59.0px"><span>41'</span></div>
<div class="c" style="left:954.5px;top:819.0px;width:179.0px;height:59.0px"><span>44'</span></div>
<div class="c w" style="left:62.5px;top:878.0px;width:175.0px;height:59.0px"><span>LENGTH</span></div>
<div class="c" style="left:237.5px;top:878.0px;width:179.0px;height:59.0px"><span>25'</span></div>
<div class="c" style="left:416.5px;top:878.0px;width:179.0px;height:59.0px"><span>25.5'</span></div>
<div class="c" style="left:595.5px;top:878.0px;width:180.0px;height:59.0px"><span>26'</span></div>
<div class="c" style="left:775.5px;top:878.0px;width:179.0px;height:59.0px"><span>26.5'</span></div>
<div class="c" style="left:954.5px;top:878.0px;width:179.0px;height:59.0px"><span>27.5'</span></div>
<div class="c w" style="left:62.5px;top:937.0px;width:175.0px;height:59.0px"><span>ARMHOLE</span></div>
<div class="c" style="left:237.5px;top:937.0px;width:179.0px;height:59.0px"><span>15'</span></div>
<div class="c" style="left:416.5px;top:937.0px;width:179.0px;height:59.0px"><span>16'</span></div>
<div class="c" style="left:595.5px;top:937.0px;width:180.0px;height:59.0px"><span>17'</span></div>
<div class="c" style="left:775.5px;top:937.0px;width:179.0px;height:59.0px"><span>18'</span></div>
<div class="c" style="left:954.5px;top:937.0px;width:179.0px;height:59.0px"><span>19'</span></div>
<div class="c w" style="left:62.5px;top:996.0px;width:175.0px;height:58.8px"><span>SLEEVE</span></div>
<div class="c" style="left:237.5px;top:996.0px;width:179.0px;height:58.8px"><span>17'</span></div>
<div class="c" style="left:416.5px;top:996.0px;width:179.0px;height:58.8px"><span>17'</span></div>
<div class="c" style="left:595.5px;top:996.0px;width:180.0px;height:58.8px"><span>17.5'</span></div>
<div class="c" style="left:775.5px;top:996.0px;width:179.0px;height:58.8px"><span>17.5'</span></div>
<div class="c" style="left:954.5px;top:996.0px;width:179.0px;height:58.8px"><span>18'</span></div>


<div class="a foot" style="top:1121px;letter-spacing:-0.6px">*ALL MEASUREMENT IN <span class="r">INCH.</span> PLEASE ALLOW 1 - 2 INCHES DIFFERENCES DUE TO MANUAL</div>
<div class="a foot" style="top:1149px;letter-spacing:0.27px">MEASUREMENT AND DIFFERENT MEASURING TAPE.</div>

<svg id="txt" style="position:absolute;left:0;top:0" width="1200" height="1200" viewBox="0 0 1200 1200" font-family="Liberation Sans, Arial, sans-serif">
<defs><linearGradient id="lg" gradientUnits="userSpaceOnUse" x1="1066.23" y1="0" x2="1279.48" y2="0"><stop offset="0.00000" stop-color="#7a4a4b"/><stop offset="0.25400" stop-color="#7a4a4b"/><stop offset="0.25400" stop-color="#608a90"/><stop offset="0.41500" stop-color="#608a90"/><stop offset="0.41500" stop-color="#6c6268"/><stop offset="0.57500" stop-color="#6c6268"/><stop offset="0.57500" stop-color="#e7af88"/><stop offset="0.72100" stop-color="#e7af88"/><stop offset="0.72100" stop-color="#a08fa0"/><stop offset="1.00000" stop-color="#a08fa0"/></linearGradient></defs>
<text transform="scale(0.8485,1)" x="522.48 562.33 589.87 626.80 647.43 690.69 736.80 781.00 823.19 866.44" y="67.4" font-size="35" font-weight="700" fill="#111110" stroke="#111110" stroke-width="1.1" stroke-linejoin="round">SIZE CHART</text>
<text transform="scale(0.9136,1)" x="62.57 85.78 111.77 139.11 165.75 192.59 220.20 235.96 256.74 285.70 309.54 335.04 359.62 384.32 409.66 432.68 461.92 485.90 512.30" y="540.8" font-size="26" font-weight="700" fill="#121211" stroke="#121211" stroke-width="1.0" stroke-linejoin="round">PRODUCT MEASUREMENT</text>
<text transform="scale(0.8147,1)" x="1218.67 1238.36 1257.81 1278.07 1298.52 1318.39 1340.74 1362.26" y="154.6" font-size="16" font-weight="700" fill="#141412" stroke="#141412" stroke-width="0.9" stroke-linejoin="round">SHOULDER</text>
<text transform="scale(0.8571,1)" x="1178.53 1200.29 1219.68 1238.42 1256.63" y="259.4" font-size="16" font-weight="700" fill="#141412" stroke="#141412" stroke-width="0.9" stroke-linejoin="round">CHEST</text>
<text transform="scale(0.9294,1)" x="1095.51 1119.58 1139.03 1150.80 1167.64" y="327.2" font-size="16" font-weight="700" fill="#141412" stroke="#141412" stroke-width="0.9" stroke-linejoin="round">WAIST</text>
<text transform="scale(0.8385,1)" x="1018.79 1035.06 1054.96 1077.52 1098.68 1118.05" y="566.2" font-size="16" font-weight="700" fill="#141412" stroke="#141412" stroke-width="0.9" stroke-linejoin="round">LENGTH</text>
<text transform="scale(0.9379,1)" x="1090.22 1121.04 1155.87 1188.34 1221.00" y="1175.2" font-size="44" font-weight="700" fill="url(#lg)" stroke="url(#lg)" stroke-width="1.0" stroke-linejoin="round">ZUCCA</text>
</svg>
</body></html>
